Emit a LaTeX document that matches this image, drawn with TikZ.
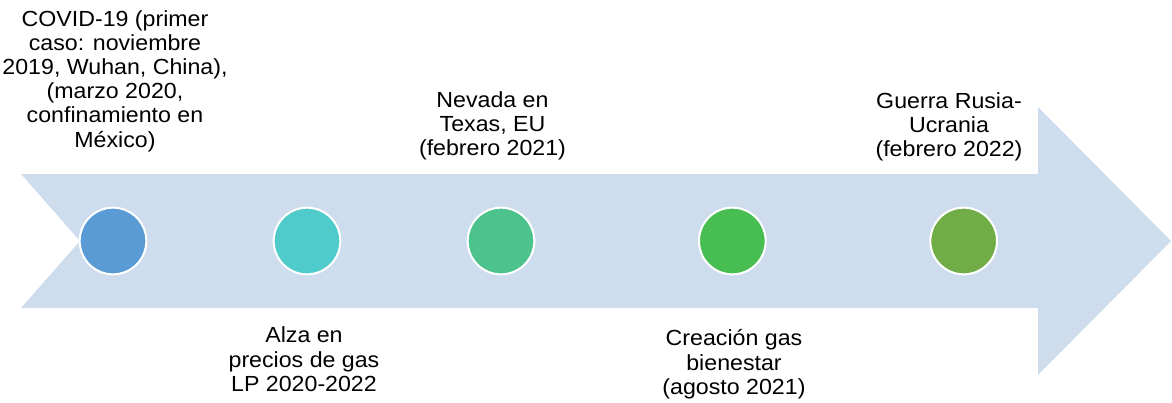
\documentclass[tikz,border=0pt]{standalone}
\usepackage{fontspec}
\setmainfont{Liberation Sans}[FakeStretch=1.06]
\usetikzlibrary{positioning}
\definecolor{banda}{HTML}{CEDDEE}
\definecolor{hitoA}{HTML}{5B9BD5}
\definecolor{hitoB}{HTML}{50CBCB}
\definecolor{hitoC}{HTML}{4CC38C}
\definecolor{hitoD}{HTML}{48BD52}
\definecolor{hitoE}{HTML}{70AD47}
\tikzset{
x=0.75pt, y=-0.75pt, % one unit is one pixel of the original, y going down
node distance=145.5pt, % spacing between two milestones. Change if necessary.
hito/.style={circle, draw=white, line width=1.5pt, minimum size=50pt, inner sep=0pt}, % sets the properties for each milestone
evento/.style={align=center, inner sep=0pt, anchor=north, font=\fontsize{16.4}{18.15}\selectfont}, % text of a milestone
}
\begin{document}
\begin{tikzpicture}

            \useasboundingbox (0,0) rectangle (1172,403);
            % the timeline arrow
            \fill[banda] (21,174) -- (1038,174) -- (1038,107) -- (1171,241) -- (1038,375)
                -- (1038,308) -- (21,308) -- (80,241) -- cycle;

            \node[hito, fill=hitoA] at (113,241) (covid) {};
            \node[hito, fill=hitoB, right of=covid] (alza) {};
            \node[hito, fill=hitoC, right of=alza] (nevada) {};
            \node[hito, fill=hitoD, right of=nevada, xshift=28pt] (bienestar) {};
            \node[hito, fill=hitoE, right of=bienestar, xshift=28pt] (guerra) {};

            \node[evento] at (115,10) (covidtxt) {COVID-19 (primer\\caso: noviembre\\2019, Wuhan, China),\\(marzo 2020,\\confinamiento en\\México)};
            \node[evento] at (304,326.7) (alzatxt) {Alza en\\precios de gas\\LP 2020-2022};
            \node[evento] at (492.5,91) (nevadatxt) {Nevada en\\Texas, EU\\(febrero 2021)};
            \node[evento] at (734,329.5) (bienestartxt) {Creación gas\\bienestar\\(agosto 2021)};
            \node[evento] at (949,92) (guerratxt) {Guerra Rusia-\\Ucrania\\(febrero 2022)};
        \end{tikzpicture}
\end{document}
